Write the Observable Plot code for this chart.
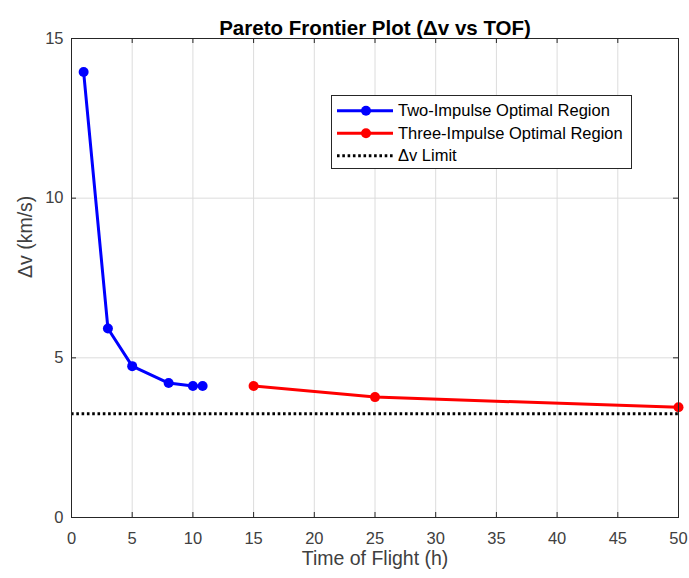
<!DOCTYPE html>
<html>
<head>
<meta charset="utf-8">
<script src="https://cdn.jsdelivr.net/npm/d3@7"></script>
<script src="https://cdn.jsdelivr.net/npm/@observablehq/plot@0.6"></script>
<style>
  html, body { margin: 0; padding: 0; background: #fff; }
  #chart svg { display: block; }
</style>
</head>
<body>
<div id="chart"></div>
<script>
// ---- data ----
const twoTOF = [1, 3, 5, 8, 10, 10.8];
const twoDV = [13.95, 5.92, 4.74, 4.21, 4.12, 4.12];
const threeTOF = [15, 25, 50];
const threeDV = [4.12, 3.77, 3.45];
const dvLimit = 3.25;
const xTicks = [0, 5, 10, 15, 20, 25, 30, 35, 40, 45, 50];
const yTicks = [0, 5, 10, 15];
const seriesNames = ["Two-Impulse Optimal Region", "Three-Impulse Optimal Region", "\u0394v Limit"];
const titleText = "Pareto Frontier Plot (\u0394v vs TOF)";
const xLabel = "Time of Flight (h)";
const yLabel = "\u0394v (km/s)";

const two = twoTOF.map((t, i) => ({tof: t, dv: twoDV[i]}));
const three = threeTOF.map((t, i) => ({tof: t, dv: threeDV[i]}));

const W = 689, H = 578;
const mL = 71, mR = 11, mT = 38, mB = 61;
const innerH = H - mT - mB;
const tickLen = 5;
const font = "'Liberation Sans', Arial, Helvetica, sans-serif";
const axisColor = "#262626";
const labelColor = "#404040";

const chart = Plot.plot({
  width: W, height: H,
  marginLeft: mL, marginRight: mR, marginTop: mT, marginBottom: mB,
  style: {fontFamily: font, fontSize: "16px", color: axisColor, background: "#fff"},
  x: {domain: [0, 50]},
  y: {domain: [0, 15]},
  marks: [
    Plot.gridX(xTicks, {stroke: "#dcdcdc", strokeOpacity: 1, strokeWidth: 1}),
    Plot.gridY(yTicks, {stroke: "#dcdcdc", strokeOpacity: 1, strokeWidth: 1}),
    Plot.ruleY([dvLimit], {stroke: "black", strokeWidth: 3, strokeDasharray: "2.6,2.7"}),
    Plot.line(two, {x: "tof", y: "dv", stroke: "#0000ff", strokeWidth: 3}),
    Plot.dot(two, {x: "tof", y: "dv", r: 5, fill: "#0000ff", stroke: "none"}),
    Plot.line(three, {x: "tof", y: "dv", stroke: "#ff0000", strokeWidth: 3}),
    Plot.dot(three, {x: "tof", y: "dv", r: 5, fill: "#ff0000", stroke: "none"}),
    Plot.frame({stroke: axisColor, strokeWidth: 1}),
    // inward ticks
    Plot.tickX(xTicks, {x: d => d, insetTop: innerH - tickLen, stroke: axisColor}),
    Plot.tickX(xTicks, {x: d => d, insetBottom: innerH - tickLen, stroke: axisColor}),
    Plot.tickY(yTicks, {y: d => d, insetRight: (W - mL - mR) - tickLen, stroke: axisColor}),
    Plot.tickY(yTicks, {y: d => d, insetLeft: (W - mL - mR) - tickLen, stroke: axisColor}),
    Plot.axisX(xTicks, {tickSize: 0, tickPadding: 15, label: null, fontSize: 16.5, fill: labelColor}),
    Plot.axisY(yTicks, {tickSize: 0, tickPadding: 8, label: null, fontSize: 16.5, fill: labelColor}),
    Plot.text([xLabel], {frameAnchor: "bottom", dy: 47, fontSize: 19.5, fill: labelColor}),
    Plot.text([yLabel], {frameAnchor: "left", dx: -46, rotate: -90, fontSize: 19.5, fill: labelColor}),
    Plot.text([titleText], {frameAnchor: "top", dy: -18, fontSize: 20.5, fontWeight: "bold", fill: "black"})
  ]
});

document.getElementById("chart").appendChild(chart);

// ---- legend ----
const svg = d3.select(chart);
const lg = svg.append("g").attr("font-family", font).attr("font-size", 16.5).attr("text-anchor", "start");
lg.append("rect").attr("x", 331.5).attr("y", 95.5).attr("width", 300).attr("height", 73)
  .attr("fill", "white").attr("stroke", axisColor).attr("stroke-width", 1);
const rows = [
  {name: seriesNames[0], color: "#0000ff", dash: null, marker: true},
  {name: seriesNames[1], color: "#ff0000", dash: null, marker: true},
  {name: seriesNames[2], color: "black", dash: "2.6,2.7", marker: false}
];
rows.forEach((r, i) => {
  const y = 110.7 + i * 22.5;
  const line = lg.append("line").attr("x1", 337).attr("x2", 393).attr("y1", y).attr("y2", y)
    .attr("stroke", r.color).attr("stroke-width", 3);
  if (r.dash) line.attr("stroke-dasharray", r.dash);
  if (r.marker) lg.append("circle").attr("cx", 366).attr("cy", y).attr("r", 5).attr("fill", r.color);
  lg.append("text").attr("x", 398).attr("y", y).attr("dy", "0.35em").attr("fill", "black")
    .attr("text-anchor", "start").text(r.name);
});
</script>
</body>
</html>
